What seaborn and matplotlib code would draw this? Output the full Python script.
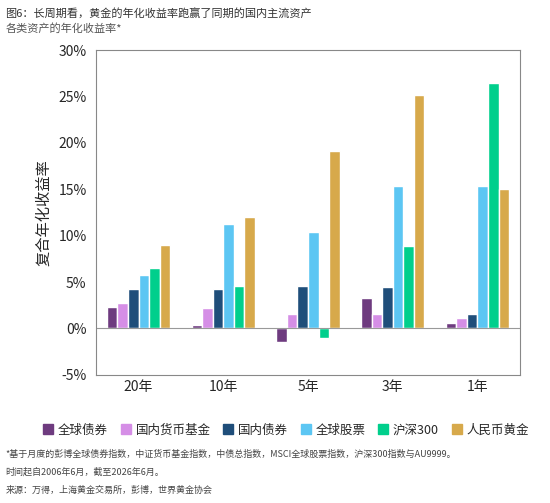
import matplotlib
matplotlib.use("Agg")
import matplotlib.pyplot as plt
import seaborn as sns
import pandas as pd

periods = ["20年", "10年", "5年", "3年", "1年"]
assets = ["全球债券", "国内货币基金", "国内债券", "全球股票", "沪深300", "人民币黄金"]
global_bond = [2.3, 0.4, -1.5, 3.3, 0.6]
cn_money = [2.7, 2.2, 1.6, 1.5, 1.1]
cn_bond = [4.3, 4.2, 4.6, 4.5, 1.5]
global_equity = [5.8, 11.3, 10.4, 15.4, 15.4]
csi300 = [6.5, 4.6, -1.0, 8.9, 26.5]
gold_cny = [9.0, 12.0, 19.1, 25.2, 15.0]
colors = ["#6e3b7f", "#d58ee6", "#1f4e7a", "#5cc6f3", "#00cf8c", "#d7a94b"]

series = [global_bond, cn_money, cn_bond, global_equity, csi300, gold_cny]
rows = []
for a, vals in zip(assets, series):
    for p, v in zip(periods, vals):
        rows.append({"period": p, "asset": a, "value": v})
df = pd.DataFrame(rows)

sns.set_style("white")
plt.rcParams["font.family"] = ["Noto Sans CJK SC", "DejaVu Sans"]

fig = plt.figure(figsize=(5.5, 5.03), dpi=100)
ax = fig.add_axes([0.175, 0.255, 0.77, 0.645])
sns.barplot(data=df, x="period", y="value", hue="asset", palette=colors,
            width=0.75, ax=ax, saturation=1, legend=False)
ax.set_ylim(-5, 30)
ax.set_yticks(range(-5, 31, 5))
ax.set_yticklabels([f"{t}%" for t in range(-5, 31, 5)], fontsize=10)
ax.tick_params(axis="x", labelsize=10, length=0)
ax.set_xlabel("")
ax.set_ylabel("复合年化收益率", fontsize=11)
ax.axhline(0, color="#999999", lw=0.8)
for s in ax.spines.values():
    s.set_color("#888888")
    s.set_linewidth(0.8)

handles = [plt.Rectangle((0, 0), 1, 1, color=c) for c in colors]
fig.legend(handles, assets, loc="center", bbox_to_anchor=(0.52, 0.145), ncol=6,
           frameon=False, fontsize=9, handlelength=0.8, handleheight=0.8,
           columnspacing=1.0, handletextpad=0.4)

fig.text(0.01, 0.985, "图6：长周期看，黄金的年化收益率跑赢了同期的国内主流资产",
         fontsize=8, va="top", color="#333333")
fig.text(0.01, 0.955, "各类资产的年化收益率*", fontsize=8, va="top", color="#555555")
fig.text(0.01, 0.105, "*基于月度的彭博全球债券指数，中证货币基金指数，中债总指数，MSCI全球股票指数，沪深300指数与AU9999。",
         fontsize=6.5, va="top", color="#444444")
fig.text(0.01, 0.07, "时间起自2006年6月，截至2026年6月。", fontsize=6.5, va="top", color="#444444")
fig.text(0.01, 0.035, "来源：万得，上海黄金交易所，彭博，世界黄金协会", fontsize=6.5, va="top", color="#444444")

fig.savefig("out.png", dpi=100)
